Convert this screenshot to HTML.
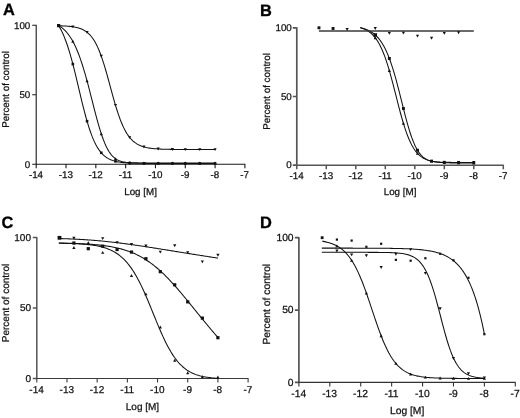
<!DOCTYPE html>
<html><head><meta charset="utf-8"><title>Dose-response curves</title>
<style>
html,body{margin:0;padding:0;background:#fff;}
body{width:520px;height:418px;overflow:hidden;font-family:"Liberation Sans",sans-serif;}
svg{display:block;text-rendering:geometricPrecision;will-change:transform;transform:translateZ(0);font-family:"Liberation Sans",sans-serif;}
</style></head><body>
<svg width="520" height="418" viewBox="0 0 520 418">
<rect width="520" height="418" fill="#fff"/>
<path d="M36.20 24.80V164.75M32.20 164.25H36.20M32.20 94.78H36.20M32.20 25.30H36.20" fill="none" stroke="#1a1a1a" stroke-width="1.1"/>
<path d="M35.70 164.25H245.40M36.20 164.25V168.25M66.01 164.25V168.25M95.83 164.25V168.25M125.64 164.25V168.25M155.46 164.25V168.25M185.27 164.25V168.25M215.09 164.25V168.25M244.90 164.25V168.25" fill="none" stroke="#1a1a1a" stroke-width="1.1"/>
<g font-size="9.8" fill="#111" stroke="#111" stroke-width="0.25">
<text x="30.30" y="167.55" text-anchor="end">0</text>
<text x="30.30" y="98.08" text-anchor="end">50</text>
<text x="30.30" y="28.60" text-anchor="end">100</text>
<text x="36.00" y="178.35" text-anchor="middle">-14</text>
<text x="65.81" y="178.35" text-anchor="middle">-13</text>
<text x="95.63" y="178.35" text-anchor="middle">-12</text>
<text x="125.44" y="178.35" text-anchor="middle">-11</text>
<text x="155.26" y="178.35" text-anchor="middle">-10</text>
<text x="185.07" y="178.35" text-anchor="middle">-9</text>
<text x="214.89" y="178.35" text-anchor="middle">-8</text>
<text x="244.70" y="178.35" text-anchor="middle">-7</text>
<text x="140.55" y="194.95" text-anchor="middle">Log [M]</text>
<text transform="translate(8.60 89.40) rotate(-90)" text-anchor="middle">Percent of control</text>
</g>
<text x="2.9" y="14.5" font-size="16.4" font-weight="bold" fill="#000" stroke="#000" stroke-width="0.3">A</text>
<polyline points="58.41,25.30 59.54,27.13 60.67,29.15 61.79,31.35 62.92,33.75 64.05,36.36 65.17,39.19 66.30,42.23 67.43,45.50 68.56,48.98 69.68,52.68 70.81,56.59 71.94,60.69 73.06,64.97 74.19,69.40 75.32,73.97 76.45,78.63 77.57,83.37 78.70,88.13 79.83,92.90 80.95,97.63 82.08,102.28 83.21,106.83 84.34,111.24 85.46,115.50 86.59,119.56 87.72,123.42 88.84,127.07 89.97,130.49 91.10,133.68 92.23,136.63 93.35,139.36 94.48,141.86 95.61,144.15 96.73,146.23 97.86,148.12 98.99,149.82 100.12,151.36 101.24,152.74 102.37,153.97 103.50,155.07 104.62,156.05 105.75,156.93 106.88,157.70 108.01,158.39 109.13,159.00 110.26,159.54 111.39,160.01 112.51,160.43 113.64,160.80 114.77,161.12 115.90,161.41 117.02,161.66 118.15,161.88 119.28,162.07 120.40,162.24 121.53,162.39 122.66,162.52 123.79,162.64 124.91,162.74 126.04,162.83 127.17,162.91 128.30,162.97 129.42,163.03 130.55,163.08 131.68,163.13 132.80,163.17 133.93,163.20 135.06,163.23 136.19,163.26 137.31,163.28 138.44,163.30 139.57,163.32 140.69,163.34 141.82,163.35 142.95,163.36 144.08,163.37 145.20,163.38 146.33,163.39 147.46,163.40 148.58,163.40 149.71,163.41 150.84,163.41 151.97,163.42 153.09,163.42 154.22,163.43 155.35,163.43 156.47,163.43 157.60,163.43 158.73,163.43 159.86,163.44 160.98,163.44 162.11,163.44 163.24,163.44 164.36,163.44 165.49,163.44 166.62,163.44 167.75,163.44 168.87,163.44 170.00,163.44 171.13,163.44 172.25,163.44 173.38,163.44 174.51,163.45 175.64,163.45 176.76,163.45 177.89,163.45 179.02,163.45 180.14,163.45 181.27,163.45 182.40,163.45 183.53,163.45 184.65,163.45 185.78,163.45 186.91,163.45 188.03,163.45 189.16,163.45 190.29,163.45 191.42,163.45 192.54,163.45 193.67,163.45 194.80,163.45 195.92,163.45 197.05,163.45 198.18,163.45 199.31,163.45 200.43,163.45 201.56,163.45 202.69,163.45 203.81,163.45 204.94,163.45 206.07,163.45 207.20,163.45 208.32,163.45 209.45,163.45 210.58,163.45 211.70,163.45 212.83,163.45 213.96,163.45 215.09,163.45" fill="none" stroke="#111" stroke-width="1.05" stroke-linejoin="round"/>
<polyline points="58.41,25.35 59.54,26.05 60.67,26.82 61.79,27.66 62.92,28.59 64.05,29.60 65.17,30.71 66.30,31.92 67.43,33.24 68.56,34.68 69.68,36.25 70.81,37.95 71.94,39.80 73.06,41.79 74.19,43.95 75.32,46.27 76.45,48.77 77.57,51.44 78.70,54.30 79.83,57.34 80.95,60.56 82.08,63.97 83.21,67.55 84.34,71.30 85.46,75.21 86.59,79.27 87.72,83.45 88.84,87.73 89.97,92.10 91.10,96.53 92.23,100.97 93.35,105.41 94.48,109.82 95.61,114.15 96.73,118.37 97.86,122.46 98.99,126.39 100.12,130.13 101.24,133.66 102.37,136.97 103.50,140.04 104.62,142.87 105.75,145.45 106.88,147.78 108.01,149.88 109.13,151.75 110.26,153.40 111.39,154.85 112.51,156.12 113.64,157.21 114.77,158.15 115.90,158.95 117.02,159.64 118.15,160.21 119.28,160.70 120.40,161.10 121.53,161.44 122.66,161.72 123.79,161.95 124.91,162.14 126.04,162.30 127.17,162.42 128.30,162.53 129.42,162.61 130.55,162.68 131.68,162.74 132.80,162.78 133.93,162.82 135.06,162.84 136.19,162.87 137.31,162.89 138.44,162.90 139.57,162.91 140.69,162.92 141.82,162.93 142.95,162.94 144.08,162.94 145.20,162.95 146.33,162.95 147.46,162.95 148.58,162.95 149.71,162.95 150.84,162.96 151.97,162.96 153.09,162.96 154.22,162.96 155.35,162.96 156.47,162.96 157.60,162.96 158.73,162.96 159.86,162.96 160.98,162.96 162.11,162.96 163.24,162.96 164.36,162.96 165.49,162.96 166.62,162.96 167.75,162.96 168.87,162.96 170.00,162.96 171.13,162.96 172.25,162.96 173.38,162.96 174.51,162.96 175.64,162.96 176.76,162.96 177.89,162.96 179.02,162.96 180.14,162.96 181.27,162.96 182.40,162.96 183.53,162.96 184.65,162.96 185.78,162.96 186.91,162.96 188.03,162.96 189.16,162.96 190.29,162.96 191.42,162.96 192.54,162.96 193.67,162.96 194.80,162.96 195.92,162.96 197.05,162.96 198.18,162.96 199.31,162.96 200.43,162.96 201.56,162.96 202.69,162.96 203.81,162.96 204.94,162.96 206.07,162.96 207.20,162.96 208.32,162.96 209.45,162.96 210.58,162.96 211.70,162.96 212.83,162.96 213.96,162.96 215.09,162.96" fill="none" stroke="#111" stroke-width="1.05" stroke-linejoin="round"/>
<polyline points="58.41,25.75 59.54,25.78 60.67,25.82 61.79,25.86 62.92,25.91 64.05,25.96 65.17,26.02 66.30,26.09 67.43,26.18 68.56,26.27 69.68,26.38 70.81,26.50 71.94,26.64 73.06,26.81 74.19,26.99 75.32,27.20 76.45,27.45 77.57,27.73 78.70,28.05 79.83,28.41 80.95,28.83 82.08,29.30 83.21,29.84 84.34,30.45 85.46,31.15 86.59,31.94 87.72,32.84 88.84,33.85 89.97,34.98 91.10,36.26 92.23,37.70 93.35,39.30 94.48,41.08 95.61,43.05 96.73,45.22 97.86,47.61 98.99,50.21 100.12,53.04 101.24,56.08 102.37,59.34 103.50,62.79 104.62,66.44 105.75,70.25 106.88,74.19 108.01,78.25 109.13,82.37 110.26,86.54 111.39,90.70 112.51,94.82 113.64,98.86 114.77,102.79 115.90,106.59 117.02,110.23 118.15,113.68 119.28,116.93 120.40,119.99 121.53,122.83 122.66,125.46 123.79,127.88 124.91,130.10 126.04,132.12 127.17,133.97 128.30,135.64 129.42,137.14 130.55,138.50 131.68,139.72 132.80,140.81 133.93,141.79 135.06,142.66 136.19,143.44 137.31,144.13 138.44,144.75 139.57,145.29 140.69,145.78 141.82,146.21 142.95,146.59 144.08,146.93 145.20,147.23 146.33,147.50 147.46,147.73 148.58,147.94 149.71,148.12 150.84,148.28 151.97,148.43 153.09,148.55 154.22,148.67 155.35,148.76 156.47,148.85 157.60,148.93 158.73,149.00 159.86,149.06 160.98,149.11 162.11,149.16 163.24,149.20 164.36,149.23 165.49,149.27 166.62,149.29 167.75,149.32 168.87,149.34 170.00,149.36 171.13,149.38 172.25,149.39 173.38,149.41 174.51,149.42 175.64,149.43 176.76,149.44 177.89,149.45 179.02,149.45 180.14,149.46 181.27,149.46 182.40,149.47 183.53,149.47 184.65,149.48 185.78,149.48 186.91,149.48 188.03,149.49 189.16,149.49 190.29,149.49 191.42,149.49 192.54,149.49 193.67,149.50 194.80,149.50 195.92,149.50 197.05,149.50 198.18,149.50 199.31,149.50 200.43,149.50 201.56,149.50 202.69,149.50 203.81,149.50 204.94,149.50 206.07,149.50 207.20,149.50 208.32,149.50 209.45,149.50 210.58,149.50 211.70,149.50 212.83,149.50 213.96,149.51 215.09,149.51" fill="none" stroke="#111" stroke-width="1.05" stroke-linejoin="round"/>
<g fill="#111">
<rect x="57.01" y="24.01" width="3.20" height="3.20"/>
<rect x="71.54" y="62.79" width="2.60" height="2.60"/>
<rect x="85.76" y="119.90" width="2.60" height="2.60"/>
<rect x="99.99" y="151.48" width="2.60" height="2.60"/>
<rect x="114.21" y="160.01" width="2.60" height="2.60"/>
<rect x="128.44" y="161.75" width="2.60" height="2.60"/>
<rect x="142.66" y="162.07" width="2.60" height="2.60"/>
<rect x="156.89" y="162.13" width="2.60" height="2.60"/>
<rect x="171.11" y="162.14" width="2.60" height="2.60"/>
<rect x="183.97" y="162.15" width="2.60" height="2.60"/>
<rect x="198.43" y="162.15" width="2.60" height="2.60"/>
<rect x="213.79" y="162.15" width="2.60" height="2.60"/>
<path d="M72.84 39.83L74.44 42.73L71.24 42.73Z"/>
<path d="M87.06 79.45L88.66 82.35L85.46 82.35Z"/>
<path d="M101.29 132.24L102.89 135.14L99.69 135.14Z"/>
<path d="M115.51 157.14L117.11 160.04L113.91 160.04Z"/>
<path d="M129.74 161.08L131.34 163.98L128.14 163.98Z"/>
<path d="M143.96 161.39L145.56 164.29L142.36 164.29Z"/>
<path d="M158.19 161.41L159.79 164.31L156.59 164.31Z"/>
<path d="M172.41 161.41L174.01 164.31L170.81 164.31Z"/>
<path d="M185.27 161.41L186.87 164.31L183.67 164.31Z"/>
<path d="M199.73 161.41L201.33 164.31L198.13 164.31Z"/>
<path d="M215.09 161.41L216.69 164.31L213.49 164.31Z"/>
<path d="M72.84 28.32L74.44 25.42L71.24 25.42Z"/>
<path d="M87.06 33.85L88.66 30.95L85.46 30.95Z"/>
<path d="M101.29 57.75L102.89 54.85L99.69 54.85Z"/>
<path d="M115.51 106.86L117.11 103.96L113.91 103.96Z"/>
<path d="M129.74 139.08L131.34 136.18L128.14 136.18Z"/>
<path d="M143.96 148.45L145.56 145.55L142.36 145.55Z"/>
<path d="M158.19 150.52L159.79 147.62L156.59 147.62Z"/>
<path d="M172.41 150.94L174.01 148.04L170.81 148.04Z"/>
<path d="M185.27 151.03L186.87 148.13L183.67 148.13Z"/>
<path d="M199.73 151.05L201.33 148.15L198.13 148.15Z"/>
<path d="M215.09 151.06L216.69 148.16L213.49 148.16Z"/>
</g>
<path d="M296.80 27.30V165.65M292.80 165.15H296.80M292.80 96.48H296.80M292.80 27.80H296.80" fill="none" stroke="#555" stroke-width="1.7"/>
<path d="M296.30 165.15H503.80M296.80 165.15V169.15M326.30 165.15V169.15M355.80 165.15V169.15M385.30 165.15V169.15M414.80 165.15V169.15M444.30 165.15V169.15M473.80 165.15V169.15M503.30 165.15V169.15" fill="none" stroke="#555" stroke-width="1.5"/>
<g font-size="9.8" fill="#111" stroke="#111" stroke-width="0.25">
<text x="291.80" y="168.45" text-anchor="end">0</text>
<text x="291.80" y="99.78" text-anchor="end">50</text>
<text x="291.80" y="31.10" text-anchor="end">100</text>
<text x="296.60" y="178.85" text-anchor="middle">-14</text>
<text x="326.10" y="178.85" text-anchor="middle">-13</text>
<text x="355.60" y="178.85" text-anchor="middle">-12</text>
<text x="385.10" y="178.85" text-anchor="middle">-11</text>
<text x="414.60" y="178.85" text-anchor="middle">-10</text>
<text x="444.10" y="178.85" text-anchor="middle">-9</text>
<text x="473.60" y="178.85" text-anchor="middle">-8</text>
<text x="503.10" y="178.85" text-anchor="middle">-7</text>
<text x="400.05" y="195.45" text-anchor="middle">Log [M]</text>
<text transform="translate(269.60 91.40) rotate(-90)" text-anchor="middle">Percent of control</text>
</g>
<text x="260.0" y="15.5" font-size="16.4" font-weight="bold" fill="#000" stroke="#000" stroke-width="0.3">B</text>
<polyline points="360.23,27.76 361.04,27.94 361.86,28.14 362.68,28.35 363.49,28.59 364.31,28.84 365.13,29.11 365.94,29.40 366.76,29.72 367.58,30.07 368.40,30.44 369.21,30.84 370.03,31.27 370.85,31.74 371.66,32.25 372.48,32.79 373.30,33.38 374.12,34.01 374.93,34.69 375.75,35.42 376.57,36.20 377.38,37.05 378.20,37.95 379.02,38.93 379.84,39.97 380.65,41.08 381.47,42.27 382.29,43.55 383.10,44.90 383.92,46.35 384.74,47.89 385.55,49.52 386.37,51.26 387.19,53.09 388.01,55.03 388.82,57.07 389.64,59.22 390.46,61.48 391.27,63.84 392.09,66.32 392.91,68.89 393.73,71.57 394.54,74.34 395.36,77.21 396.18,80.16 396.99,83.19 397.81,86.28 398.63,89.44 399.45,92.64 400.26,95.88 401.08,99.14 401.90,102.40 402.71,105.67 403.53,108.91 404.35,112.11 405.16,115.27 405.98,118.37 406.80,121.39 407.62,124.32 408.43,127.16 409.25,129.88 410.07,132.49 410.88,134.98 411.70,137.33 412.52,139.56 413.34,141.64 414.15,143.60 414.97,145.42 415.79,147.10 416.60,148.66 417.42,150.09 418.24,151.40 419.06,152.59 419.87,153.68 420.69,154.66 421.51,155.55 422.32,156.35 423.14,157.07 423.96,157.71 424.77,158.28 425.59,158.79 426.41,159.24 427.23,159.64 428.04,159.99 428.86,160.30 429.68,160.58 430.49,160.82 431.31,161.03 432.13,161.21 432.95,161.38 433.76,161.52 434.58,161.64 435.40,161.75 436.21,161.84 437.03,161.92 437.85,161.99 438.67,162.05 439.48,162.10 440.30,162.15 441.12,162.19 441.93,162.22 442.75,162.25 443.57,162.28 444.38,162.30 445.20,162.32 446.02,162.33 446.84,162.35 447.65,162.36 448.47,162.37 449.29,162.38 450.10,162.39 450.92,162.39 451.74,162.40 452.56,162.40 453.37,162.41 454.19,162.41 455.01,162.41 455.82,162.42 456.64,162.42 457.46,162.42 458.28,162.42 459.09,162.42 459.91,162.43 460.73,162.43 461.54,162.43 462.36,162.43 463.18,162.43 463.99,162.43 464.81,162.43 465.63,162.43 466.45,162.43 467.26,162.43 468.08,162.43 468.90,162.43 469.71,162.43 470.53,162.43 471.35,162.43 472.17,162.43 472.98,162.43 473.80,162.43" fill="none" stroke="#111" stroke-width="1.05" stroke-linejoin="round"/>
<polyline points="360.23,27.60 361.04,27.84 361.86,28.10 362.68,28.39 363.49,28.71 364.31,29.05 365.13,29.43 365.94,29.83 366.76,30.28 367.58,30.76 368.40,31.28 369.21,31.85 370.03,32.46 370.85,33.13 371.66,33.86 372.48,34.64 373.30,35.49 374.12,36.40 374.93,37.39 375.75,38.45 376.57,39.60 377.38,40.83 378.20,42.15 379.02,43.56 379.84,45.08 380.65,46.69 381.47,48.41 382.29,50.24 383.10,52.18 383.92,54.23 384.74,56.39 385.55,58.67 386.37,61.06 387.19,63.56 388.01,66.16 388.82,68.87 389.64,71.67 390.46,74.56 391.27,77.54 392.09,80.58 392.91,83.68 393.73,86.84 394.54,90.03 395.36,93.24 396.18,96.47 396.99,99.69 397.81,102.89 398.63,106.06 399.45,109.18 400.26,112.25 401.08,115.25 401.90,118.17 402.71,121.01 403.53,123.74 404.35,126.37 405.16,128.89 405.98,131.30 406.80,133.59 407.62,135.77 408.43,137.82 409.25,139.76 410.07,141.58 410.88,143.28 411.70,144.88 412.52,146.37 413.34,147.75 414.15,149.04 414.97,150.23 415.79,151.33 416.60,152.34 417.42,153.28 418.24,154.14 419.06,154.93 419.87,155.66 420.69,156.32 421.51,156.93 422.32,157.49 423.14,158.00 423.96,158.46 424.77,158.89 425.59,159.27 426.41,159.63 427.23,159.95 428.04,160.24 428.86,160.50 429.68,160.74 430.49,160.96 431.31,161.16 432.13,161.34 432.95,161.50 433.76,161.65 434.58,161.78 435.40,161.90 436.21,162.01 437.03,162.11 437.85,162.20 438.67,162.28 439.48,162.36 440.30,162.43 441.12,162.49 441.93,162.54 442.75,162.59 443.57,162.64 444.38,162.68 445.20,162.71 446.02,162.75 446.84,162.78 447.65,162.80 448.47,162.83 449.29,162.85 450.10,162.87 450.92,162.89 451.74,162.90 452.56,162.92 453.37,162.93 454.19,162.94 455.01,162.96 455.82,162.97 456.64,162.97 457.46,162.98 458.28,162.99 459.09,163.00 459.91,163.00 460.73,163.01 461.54,163.01 462.36,163.02 463.18,163.02 463.99,163.02 464.81,163.03 465.63,163.03 466.45,163.03 467.26,163.04 468.08,163.04 468.90,163.04 469.71,163.04 470.53,163.04 471.35,163.04 472.17,163.05 472.98,163.05 473.80,163.05" fill="none" stroke="#111" stroke-width="1.05" stroke-linejoin="round"/>
<path d="M318.93 31.00H473.80" fill="none" stroke="#3a3a3a" stroke-width="1.7"/>
<g fill="#111">
<rect x="373.52" y="33.24" width="3.50" height="3.50"/>
<rect x="387.90" y="56.99" width="2.90" height="2.90"/>
<rect x="401.97" y="107.04" width="2.90" height="2.90"/>
<rect x="416.05" y="148.77" width="2.90" height="2.90"/>
<rect x="430.12" y="159.64" width="2.90" height="2.90"/>
<rect x="442.85" y="160.85" width="2.90" height="2.90"/>
<rect x="457.16" y="160.97" width="2.90" height="2.90"/>
<rect x="472.35" y="160.98" width="2.90" height="2.90"/>
<path d="M375.27 36.27L376.87 39.17L373.67 39.17Z"/>
<path d="M389.35 69.11L390.95 72.01L387.75 72.01Z"/>
<path d="M403.42 121.84L405.02 124.74L401.82 124.74Z"/>
<path d="M417.50 151.81L419.10 154.71L415.90 154.71Z"/>
<path d="M431.57 159.67L433.17 162.57L429.97 162.57Z"/>
<path d="M444.30 161.12L445.90 164.02L442.70 164.02Z"/>
<path d="M458.61 161.44L460.21 164.34L457.01 164.34Z"/>
<path d="M473.80 161.50L475.40 164.40L472.20 164.40Z"/>
<rect x="317.52" y="26.35" width="2.90" height="2.90"/>
<rect x="331.60" y="27.04" width="2.90" height="2.90"/>
<path d="M347.12 31.00L348.72 28.10L345.52 28.10Z"/>
<path d="M375.27 29.90L376.87 27.00L373.67 27.00Z"/>
<path d="M389.35 34.84L390.95 31.94L387.75 31.94Z"/>
<path d="M403.42 34.57L405.02 31.67L401.82 31.67Z"/>
<path d="M417.50 37.59L419.10 34.69L415.90 34.69Z"/>
<path d="M431.57 39.65L433.17 36.75L429.97 36.75Z"/>
<path d="M444.30 34.84L445.90 31.94L442.70 31.94Z"/>
<path d="M458.61 34.16L460.21 31.26L457.01 31.26Z"/>
</g>
<path d="M36.80 236.90V379.00M32.80 378.50H36.80M32.80 307.95H36.80M32.80 237.40H36.80" fill="none" stroke="#555" stroke-width="1.5"/>
<path d="M36.30 378.50H248.60M36.80 378.50V382.50M66.99 378.50V382.50M97.17 378.50V382.50M127.36 378.50V382.50M157.54 378.50V382.50M187.73 378.50V382.50M217.91 378.50V382.50M248.10 378.50V382.50" fill="none" stroke="#3a3a3a" stroke-width="1.1"/>
<g font-size="10.0" fill="#111" stroke="#111" stroke-width="0.25">
<text x="31.00" y="381.80" text-anchor="end">0</text>
<text x="31.00" y="311.25" text-anchor="end">50</text>
<text x="31.00" y="240.70" text-anchor="end">100</text>
<text x="36.60" y="392.60" text-anchor="middle">-14</text>
<text x="66.79" y="392.60" text-anchor="middle">-13</text>
<text x="96.97" y="392.60" text-anchor="middle">-12</text>
<text x="127.16" y="392.60" text-anchor="middle">-11</text>
<text x="157.34" y="392.60" text-anchor="middle">-10</text>
<text x="187.53" y="392.60" text-anchor="middle">-9</text>
<text x="217.71" y="392.60" text-anchor="middle">-8</text>
<text x="247.90" y="392.60" text-anchor="middle">-7</text>
<text x="142.45" y="409.70" text-anchor="middle">Log [M]</text>
<text transform="translate(8.90 303.00) rotate(-90)" text-anchor="middle">Percent of control</text>
</g>
<text x="1.5" y="228.4" font-size="16.4" font-weight="bold" fill="#000" stroke="#000" stroke-width="0.3">C</text>
<polyline points="58.84,238.53 59.98,238.56 61.12,238.60 62.27,238.63 63.41,238.67 64.56,238.71 65.70,238.75 66.85,238.79 67.99,238.84 69.14,238.88 70.28,238.93 71.42,238.98 72.57,239.03 73.71,239.08 74.86,239.13 76.00,239.19 77.15,239.24 78.29,239.30 79.44,239.37 80.58,239.43 81.72,239.49 82.87,239.56 84.01,239.63 85.16,239.71 86.30,239.78 87.45,239.86 88.59,239.94 89.74,240.02 90.88,240.10 92.02,240.19 93.17,240.28 94.31,240.37 95.46,240.46 96.60,240.56 97.75,240.66 98.89,240.76 100.04,240.86 101.18,240.97 102.32,241.07 103.47,241.19 104.61,241.30 105.76,241.41 106.90,241.53 108.05,241.65 109.19,241.77 110.34,241.90 111.48,242.03 112.62,242.16 113.77,242.29 114.91,242.42 116.06,242.56 117.20,242.70 118.35,242.84 119.49,242.98 120.64,243.12 121.78,243.27 122.92,243.42 124.07,243.57 125.21,243.72 126.36,243.87 127.50,244.03 128.65,244.18 129.79,244.34 130.94,244.50 132.08,244.66 133.22,244.83 134.37,244.99 135.51,245.16 136.66,245.32 137.80,245.49 138.95,245.66 140.09,245.83 141.24,246.00 142.38,246.17 143.52,246.35 144.67,246.52 145.81,246.70 146.96,246.87 148.10,247.05 149.25,247.23 150.39,247.41 151.54,247.58 152.68,247.76 153.83,247.94 154.97,248.12 156.11,248.30 157.26,248.49 158.40,248.67 159.55,248.85 160.69,249.03 161.84,249.22 162.98,249.40 164.13,249.58 165.27,249.76 166.41,249.95 167.56,250.13 168.70,250.32 169.85,250.50 170.99,250.68 172.14,250.87 173.28,251.05 174.43,251.24 175.57,251.42 176.71,251.61 177.86,251.79 179.00,251.98 180.15,252.16 181.29,252.34 182.44,252.53 183.58,252.71 184.73,252.90 185.87,253.08 187.01,253.26 188.16,253.45 189.30,253.63 190.45,253.81 191.59,254.00 192.74,254.18 193.88,254.36 195.03,254.54 196.17,254.72 197.31,254.91 198.46,255.09 199.60,255.27 200.75,255.45 201.89,255.63 203.04,255.81 204.18,255.99 205.33,256.17 206.47,256.35 207.61,256.53 208.76,256.71 209.90,256.89 211.05,257.06 212.19,257.24 213.34,257.42 214.48,257.60 215.63,257.77 216.77,257.95 217.91,258.13" fill="none" stroke="#111" stroke-width="1.05" stroke-linejoin="round"/>
<polyline points="58.84,243.04 59.98,243.06 61.12,243.09 62.27,243.11 63.41,243.13 64.56,243.16 65.70,243.18 66.85,243.21 67.99,243.24 69.14,243.27 70.28,243.30 71.42,243.34 72.57,243.37 73.71,243.41 74.86,243.45 76.00,243.49 77.15,243.54 78.29,243.58 79.44,243.63 80.58,243.69 81.72,243.74 82.87,243.80 84.01,243.86 85.16,243.92 86.30,243.99 87.45,244.06 88.59,244.14 89.74,244.21 90.88,244.30 92.02,244.38 93.17,244.48 94.31,244.57 95.46,244.67 96.60,244.78 97.75,244.89 98.89,245.01 100.04,245.14 101.18,245.27 102.32,245.40 103.47,245.55 104.61,245.70 105.76,245.86 106.90,246.03 108.05,246.20 109.19,246.39 110.34,246.58 111.48,246.78 112.62,247.00 113.77,247.22 114.91,247.46 116.06,247.70 117.20,247.96 118.35,248.23 119.49,248.51 120.64,248.81 121.78,249.12 122.92,249.44 124.07,249.78 125.21,250.14 126.36,250.51 127.50,250.89 128.65,251.30 129.79,251.72 130.94,252.16 132.08,252.61 133.22,253.09 134.37,253.59 135.51,254.10 136.66,254.64 137.80,255.20 138.95,255.77 140.09,256.38 141.24,257.00 142.38,257.64 143.52,258.31 144.67,259.01 145.81,259.72 146.96,260.46 148.10,261.23 149.25,262.02 150.39,262.83 151.54,263.67 152.68,264.53 153.83,265.42 154.97,266.33 156.11,267.27 157.26,268.23 158.40,269.21 159.55,270.22 160.69,271.26 161.84,272.31 162.98,273.39 164.13,274.49 165.27,275.61 166.41,276.76 167.56,277.92 168.70,279.11 169.85,280.31 170.99,281.53 172.14,282.77 173.28,284.03 174.43,285.30 175.57,286.59 176.71,287.90 177.86,289.21 179.00,290.54 180.15,291.88 181.29,293.24 182.44,294.60 183.58,295.97 184.73,297.35 185.87,298.74 187.01,300.13 188.16,301.53 189.30,302.93 190.45,304.34 191.59,305.75 192.74,307.16 193.88,308.58 195.03,309.99 196.17,311.41 197.31,312.82 198.46,314.23 199.60,315.64 200.75,317.05 201.89,318.45 203.04,319.85 204.18,321.25 205.33,322.64 206.47,324.03 207.61,325.40 208.76,326.78 209.90,328.14 211.05,329.50 212.19,330.85 213.34,332.20 214.48,333.53 215.63,334.86 216.77,336.17 217.91,337.48" fill="none" stroke="#111" stroke-width="1.05" stroke-linejoin="round"/>
<polyline points="58.84,243.24 59.98,243.26 61.12,243.27 62.27,243.29 63.41,243.32 64.56,243.34 65.70,243.37 66.85,243.39 67.99,243.42 69.14,243.45 70.28,243.49 71.42,243.53 72.57,243.57 73.71,243.61 74.86,243.66 76.00,243.71 77.15,243.76 78.29,243.82 79.44,243.89 80.58,243.96 81.72,244.03 82.87,244.11 84.01,244.20 85.16,244.30 86.30,244.40 87.45,244.51 88.59,244.63 89.74,244.76 90.88,244.90 92.02,245.05 93.17,245.21 94.31,245.39 95.46,245.58 96.60,245.78 97.75,246.00 98.89,246.24 100.04,246.50 101.18,246.77 102.32,247.07 103.47,247.39 104.61,247.73 105.76,248.11 106.90,248.50 108.05,248.93 109.19,249.40 110.34,249.89 111.48,250.42 112.62,251.00 113.77,251.61 114.91,252.27 116.06,252.97 117.20,253.72 118.35,254.53 119.49,255.39 120.64,256.31 121.78,257.29 122.92,258.33 124.07,259.45 125.21,260.63 126.36,261.88 127.50,263.21 128.65,264.62 129.79,266.11 130.94,267.67 132.08,269.33 133.22,271.07 134.37,272.89 135.51,274.80 136.66,276.80 137.80,278.88 138.95,281.05 140.09,283.30 141.24,285.63 142.38,288.04 143.52,290.52 144.67,293.06 145.81,295.67 146.96,298.33 148.10,301.04 149.25,303.78 150.39,306.56 151.54,309.37 152.68,312.18 153.83,315.00 154.97,317.82 156.11,320.62 157.26,323.39 158.40,326.13 159.55,328.83 160.69,331.48 161.84,334.08 162.98,336.60 164.13,339.06 165.27,341.44 166.41,343.74 167.56,345.95 168.70,348.07 169.85,350.10 170.99,352.04 172.14,353.89 173.28,355.64 174.43,357.30 175.57,358.87 176.71,360.35 177.86,361.75 179.00,363.05 180.15,364.28 181.29,365.42 182.44,366.49 183.58,367.49 184.73,368.41 185.87,369.27 187.01,370.07 188.16,370.81 189.30,371.50 190.45,372.13 191.59,372.72 192.74,373.26 193.88,373.75 195.03,374.21 196.17,374.63 197.31,375.02 198.46,375.37 199.60,375.70 200.75,376.00 201.89,376.27 203.04,376.53 204.18,376.76 205.33,376.97 206.47,377.16 207.61,377.33 208.76,377.50 209.90,377.64 211.05,377.78 212.19,377.90 213.34,378.01 214.48,378.11 215.63,378.21 216.77,378.29 217.91,378.37" fill="none" stroke="#111" stroke-width="1.05" stroke-linejoin="round"/>
<g fill="#111">
<rect x="57.59" y="235.92" width="3.80" height="3.80"/>
<rect x="72.29" y="241.44" width="3.20" height="3.20"/>
<rect x="86.69" y="247.09" width="3.20" height="3.20"/>
<rect x="101.10" y="244.55" width="3.20" height="3.20"/>
<rect x="115.50" y="247.93" width="3.20" height="3.20"/>
<rect x="129.90" y="250.47" width="3.20" height="3.20"/>
<rect x="144.30" y="257.11" width="3.20" height="3.20"/>
<rect x="158.71" y="270.09" width="3.20" height="3.20"/>
<rect x="173.11" y="283.21" width="3.20" height="3.20"/>
<rect x="186.13" y="300.28" width="3.20" height="3.20"/>
<rect x="200.77" y="316.51" width="3.20" height="3.20"/>
<rect x="216.31" y="336.12" width="3.20" height="3.20"/>
<path d="M73.89 246.01L75.49 248.91L72.29 248.91Z"/>
<path d="M88.29 241.21L89.89 244.11L86.69 244.11Z"/>
<path d="M102.70 250.95L104.30 253.85L101.10 253.85Z"/>
<path d="M131.50 274.09L133.10 276.99L129.90 276.99Z"/>
<path d="M145.90 292.43L147.50 295.33L144.30 295.33Z"/>
<path d="M160.31 325.59L161.91 328.49L158.71 328.49Z"/>
<path d="M174.71 358.75L176.31 361.65L173.11 361.65Z"/>
<path d="M187.73 371.31L189.33 374.21L186.13 374.21Z"/>
<path d="M202.37 375.26L203.97 378.16L200.77 378.16Z"/>
<path d="M217.91 375.54L219.51 378.44L216.31 378.44Z"/>
<path d="M73.89 239.66L75.49 236.76L72.29 236.76Z"/>
<path d="M102.70 240.08L104.30 237.18L101.10 237.18Z"/>
<path d="M117.10 244.03L118.70 241.13L115.50 241.13Z"/>
<path d="M131.50 246.00L133.10 243.10L129.90 243.10Z"/>
<path d="M145.90 247.42L147.50 244.52L144.30 244.52Z"/>
<path d="M160.31 253.62L161.91 250.72L158.71 250.72Z"/>
<path d="M174.71 247.27L176.31 244.37L173.11 244.37Z"/>
<path d="M187.73 254.05L189.33 251.15L186.13 251.15Z"/>
<path d="M202.37 263.36L203.97 260.46L200.77 260.46Z"/>
<path d="M217.91 256.73L219.51 253.83L216.31 253.83Z"/>
</g>
<path d="M298.90 237.20V382.90M294.90 382.40H298.90M294.90 310.05H298.90M294.90 237.70H298.90" fill="none" stroke="#555" stroke-width="1.7"/>
<path d="M298.40 382.40H515.80M298.90 382.40V386.40M329.81 382.40V386.40M360.73 382.40V386.40M391.64 382.40V386.40M422.56 382.40V386.40M453.47 382.40V386.40M484.39 382.40V386.40M515.30 382.40V386.40" fill="none" stroke="#333" stroke-width="1.1"/>
<g font-size="10.3" fill="#111" stroke="#111" stroke-width="0.25">
<text x="293.60" y="385.70" text-anchor="end">0</text>
<text x="293.60" y="313.35" text-anchor="end">50</text>
<text x="293.60" y="241.00" text-anchor="end">100</text>
<text x="298.70" y="397.00" text-anchor="middle">-14</text>
<text x="329.61" y="397.00" text-anchor="middle">-13</text>
<text x="360.53" y="397.00" text-anchor="middle">-12</text>
<text x="391.44" y="397.00" text-anchor="middle">-11</text>
<text x="422.36" y="397.00" text-anchor="middle">-10</text>
<text x="453.27" y="397.00" text-anchor="middle">-9</text>
<text x="484.19" y="397.00" text-anchor="middle">-8</text>
<text x="515.10" y="397.00" text-anchor="middle">-7</text>
<text x="407.10" y="414.20" text-anchor="middle">Log [M]</text>
<text transform="translate(270.00 304.20) rotate(-90)" text-anchor="middle">Percent of control</text>
</g>
<text x="260.0" y="227.9" font-size="16.4" font-weight="bold" fill="#000" stroke="#000" stroke-width="0.3">D</text>
<polyline points="322.24,241.18 323.41,241.39 324.57,241.62 325.74,241.87 326.91,242.14 328.07,242.45 329.24,242.78 330.41,243.15 331.57,243.55 332.74,243.99 333.91,244.47 335.07,245.00 336.24,245.58 337.40,246.22 338.57,246.91 339.74,247.67 340.90,248.50 342.07,249.40 343.24,250.38 344.40,251.45 345.57,252.61 346.74,253.86 347.90,255.22 349.07,256.69 350.24,258.27 351.40,259.96 352.57,261.78 353.74,263.73 354.90,265.81 356.07,268.02 357.24,270.37 358.40,272.85 359.57,275.46 360.74,278.20 361.90,281.07 363.07,284.05 364.23,287.15 365.40,290.35 366.57,293.63 367.73,296.99 368.90,300.41 370.07,303.88 371.23,307.37 372.40,310.87 373.57,314.37 374.73,317.85 375.90,321.28 377.07,324.66 378.23,327.96 379.40,331.17 380.57,334.29 381.73,337.30 382.90,340.19 384.07,342.95 385.23,345.58 386.40,348.07 387.57,350.43 388.73,352.65 389.90,354.74 391.06,356.69 392.23,358.51 393.40,360.21 394.56,361.78 395.73,363.23 396.90,364.58 398.06,365.81 399.23,366.95 400.40,368.00 401.56,368.96 402.73,369.83 403.90,370.63 405.06,371.37 406.23,372.03 407.40,372.64 408.56,373.19 409.73,373.70 410.90,374.15 412.06,374.57 413.23,374.94 414.39,375.28 415.56,375.59 416.73,375.87 417.89,376.12 419.06,376.35 420.23,376.56 421.39,376.74 422.56,376.91 423.73,377.06 424.89,377.20 426.06,377.33 427.23,377.44 428.39,377.54 429.56,377.63 430.73,377.71 431.89,377.79 433.06,377.85 434.23,377.91 435.39,377.97 436.56,378.02 437.73,378.06 438.89,378.10 440.06,378.14 441.22,378.17 442.39,378.20 443.56,378.22 444.72,378.25 445.89,378.27 447.06,378.29 448.22,378.31 449.39,378.32 450.56,378.34 451.72,378.35 452.89,378.36 454.06,378.37 455.22,378.38 456.39,378.39 457.56,378.40 458.72,378.40 459.89,378.41 461.06,378.41 462.22,378.42 463.39,378.42 464.55,378.43 465.72,378.43 466.89,378.43 468.05,378.44 469.22,378.44 470.39,378.44 471.55,378.44 472.72,378.45 473.89,378.45 475.05,378.45 476.22,378.45 477.39,378.45 478.55,378.45 479.72,378.45 480.89,378.45 482.05,378.46 483.22,378.46 484.39,378.46" fill="none" stroke="#111" stroke-width="1.05" stroke-linejoin="round"/>
<polyline points="321.78,248.13 322.95,248.13 324.12,248.13 325.29,248.13 326.46,248.13 327.63,248.13 328.80,248.13 329.97,248.13 331.14,248.13 332.31,248.13 333.48,248.13 334.64,248.13 335.81,248.13 336.98,248.13 338.15,248.13 339.32,248.13 340.49,248.13 341.66,248.13 342.83,248.13 344.00,248.14 345.17,248.14 346.34,248.14 347.51,248.14 348.68,248.14 349.85,248.14 351.02,248.14 352.19,248.14 353.36,248.15 354.53,248.15 355.70,248.15 356.87,248.15 358.04,248.15 359.21,248.15 360.38,248.16 361.55,248.16 362.72,248.16 363.89,248.17 365.06,248.17 366.23,248.17 367.40,248.18 368.57,248.18 369.74,248.18 370.91,248.19 372.08,248.19 373.25,248.20 374.42,248.21 375.59,248.21 376.76,248.22 377.93,248.23 379.10,248.24 380.27,248.24 381.44,248.25 382.61,248.26 383.78,248.27 384.95,248.29 386.12,248.30 387.29,248.31 388.46,248.33 389.63,248.34 390.80,248.36 391.97,248.38 393.14,248.40 394.31,248.42 395.48,248.44 396.65,248.47 397.82,248.49 398.99,248.52 400.16,248.55 401.33,248.58 402.50,248.62 403.67,248.66 404.84,248.70 406.01,248.74 407.18,248.79 408.35,248.84 409.52,248.90 410.69,248.96 411.86,249.02 413.02,249.09 414.19,249.17 415.36,249.25 416.53,249.34 417.70,249.43 418.87,249.53 420.04,249.64 421.21,249.76 422.38,249.88 423.55,250.02 424.72,250.16 425.89,250.32 427.06,250.49 428.23,250.68 429.40,250.87 430.57,251.08 431.74,251.31 432.91,251.56 434.08,251.82 435.25,252.11 436.42,252.42 437.59,252.75 438.76,253.11 439.93,253.49 441.10,253.90 442.27,254.35 443.44,254.83 444.61,255.34 445.78,255.90 446.95,256.50 448.12,257.14 449.29,257.84 450.46,258.58 451.63,259.39 452.80,260.25 453.97,261.18 455.14,262.18 456.31,263.26 457.48,264.42 458.65,265.66 459.82,267.00 460.99,268.44 462.16,269.99 463.33,271.66 464.50,273.45 465.67,275.38 466.84,277.44 468.01,279.66 469.18,282.05 470.35,284.61 471.52,287.36 472.69,290.31 473.86,293.48 475.03,296.87 476.20,300.51 477.37,304.42 478.54,308.60 479.71,313.07 480.88,317.86 482.05,322.99 483.22,328.47 484.39,334.32" fill="none" stroke="#111" stroke-width="1.05" stroke-linejoin="round"/>
<polyline points="321.78,252.33 322.95,252.33 324.12,252.33 325.29,252.33 326.46,252.33 327.63,252.33 328.80,252.33 329.97,252.33 331.14,252.33 332.31,252.33 333.48,252.33 334.64,252.33 335.81,252.33 336.98,252.33 338.15,252.33 339.32,252.33 340.49,252.33 341.66,252.33 342.83,252.33 344.00,252.33 345.17,252.33 346.34,252.33 347.51,252.33 348.68,252.33 349.85,252.33 351.02,252.33 352.19,252.33 353.36,252.33 354.53,252.33 355.70,252.33 356.87,252.33 358.04,252.33 359.21,252.34 360.38,252.34 361.55,252.34 362.72,252.34 363.89,252.34 365.06,252.34 366.23,252.34 367.40,252.35 368.57,252.35 369.74,252.35 370.91,252.36 372.08,252.36 373.25,252.37 374.42,252.37 375.59,252.38 376.76,252.39 377.93,252.39 379.10,252.40 380.27,252.42 381.44,252.43 382.61,252.44 383.78,252.46 384.95,252.48 386.12,252.51 387.29,252.53 388.46,252.56 389.63,252.60 390.80,252.64 391.97,252.69 393.14,252.74 394.31,252.80 395.48,252.87 396.65,252.96 397.82,253.05 398.99,253.16 400.16,253.29 401.33,253.43 402.50,253.60 403.67,253.79 404.84,254.00 406.01,254.25 407.18,254.54 408.35,254.87 409.52,255.25 410.69,255.68 411.86,256.18 413.02,256.74 414.19,257.38 415.36,258.12 416.53,258.95 417.70,259.90 418.87,260.97 420.04,262.18 421.21,263.55 422.38,265.08 423.55,266.80 424.72,268.72 425.89,270.86 427.06,273.22 428.23,275.81 429.40,278.65 430.57,281.74 431.74,285.08 432.91,288.65 434.08,292.45 435.25,296.46 436.42,300.65 437.59,304.99 438.76,309.44 439.93,313.96 441.10,318.50 442.27,323.02 443.44,327.47 444.61,331.80 445.78,335.99 446.95,339.99 448.12,343.77 449.29,347.33 450.46,350.64 451.63,353.70 452.80,356.50 453.97,359.06 455.14,361.37 456.31,363.46 457.48,365.32 458.65,366.99 459.82,368.46 460.99,369.77 462.16,370.93 463.33,371.94 464.50,372.83 465.67,373.61 466.84,374.29 468.01,374.88 469.18,375.39 470.35,375.84 471.52,376.23 472.69,376.57 473.86,376.86 475.03,377.11 476.20,377.33 477.37,377.52 478.54,377.69 479.71,377.83 480.88,377.95 482.05,378.05 483.22,378.15 484.39,378.22" fill="none" stroke="#111" stroke-width="1.05" stroke-linejoin="round"/>
<g fill="#111">
<rect x="320.74" y="236.30" width="2.80" height="2.80"/>
<rect x="335.79" y="238.48" width="2.20" height="2.20"/>
<rect x="350.54" y="239.49" width="2.20" height="2.20"/>
<rect x="365.29" y="245.72" width="2.20" height="2.20"/>
<rect x="380.04" y="242.68" width="2.20" height="2.20"/>
<rect x="394.79" y="258.74" width="2.20" height="2.20"/>
<rect x="409.54" y="259.61" width="2.20" height="2.20"/>
<rect x="424.29" y="257.15" width="2.20" height="2.20"/>
<rect x="439.04" y="252.66" width="2.20" height="2.20"/>
<rect x="452.37" y="259.17" width="2.20" height="2.20"/>
<rect x="467.36" y="276.68" width="2.20" height="2.20"/>
<rect x="483.29" y="333.11" width="2.20" height="2.20"/>
<path d="M336.89 252.42L338.49 249.52L335.29 249.52Z"/>
<path d="M351.64 256.32L353.24 253.42L350.04 253.42Z"/>
<path d="M366.39 257.19L367.99 254.29L364.79 254.29Z"/>
<path d="M381.14 268.91L382.74 266.01L379.54 266.01Z"/>
<path d="M395.89 255.75L397.49 252.85L394.29 252.85Z"/>
<path d="M410.64 251.12L412.24 248.22L409.04 248.22Z"/>
<path d="M425.39 274.85L426.99 271.95L423.79 271.95Z"/>
<path d="M440.14 310.15L441.74 307.25L438.54 307.25Z"/>
<path d="M453.47 359.93L455.07 357.03L451.87 357.03Z"/>
<path d="M468.46 375.27L470.06 372.37L466.86 372.37Z"/>
<path d="M484.39 379.32L485.99 376.42L482.79 376.42Z"/>
<path d="M336.89 244.38L338.49 247.28L335.29 247.28Z"/>
<path d="M351.64 258.77L353.24 261.67L350.04 261.67Z"/>
<path d="M366.39 291.56L367.99 294.46L364.79 294.46Z"/>
<path d="M381.14 334.23L382.74 337.13L379.54 337.13Z"/>
<path d="M395.89 361.87L397.49 364.77L394.29 364.77Z"/>
<path d="M410.64 372.51L412.24 375.41L409.04 375.41Z"/>
<path d="M425.39 375.71L426.99 378.61L423.79 378.61Z"/>
<path d="M440.14 376.59L441.74 379.49L438.54 379.49Z"/>
<path d="M453.47 376.82L455.07 379.72L451.87 379.72Z"/>
<path d="M468.46 376.89L470.06 379.79L466.86 379.79Z"/>
<path d="M484.39 376.91L485.99 379.81L482.79 379.81Z"/>
</g>
</svg>
</body></html>
